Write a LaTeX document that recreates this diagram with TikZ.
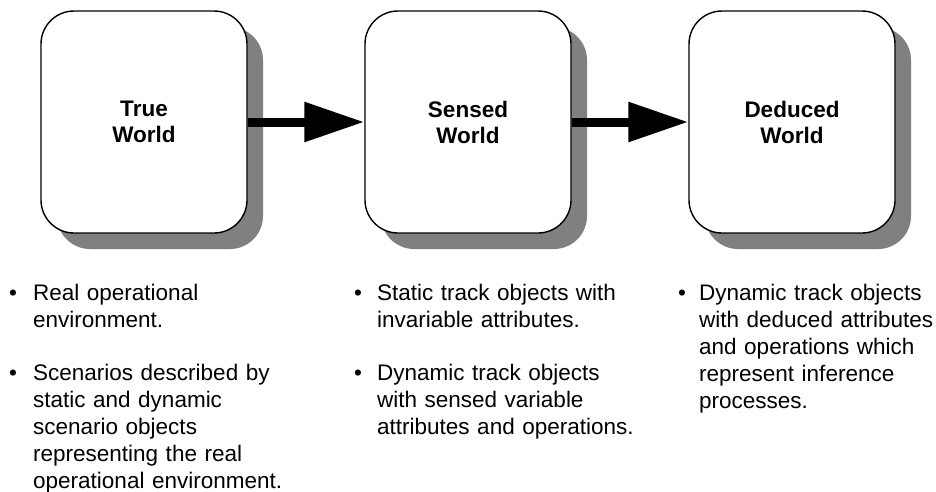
\documentclass[tikz,border=0pt]{standalone}
\usepackage{fontspec}
\setmainfont{Liberation Sans}
\usetikzlibrary{arrows.meta,shadows}
\definecolor{shadowgray}{HTML}{808080}
\hyphenpenalty=10000
\exhyphenpenalty=10000
\begin{document}
\begin{tikzpicture}[x=1pt,y=-1pt,
  worldbox/.style={draw=black, line width=1.4pt, fill=white, rounded corners=33pt,
    minimum width=206pt, minimum height=222pt, inner sep=0pt, align=center,
    font=\fontsize{22.5}{26}\selectfont\bfseries,
    drop shadow={shadow xshift=16pt, shadow yshift=-16pt, fill=shadowgray, opacity=1}},
  bigarrow/.style={line width=9pt, -{Triangle[length=60pt,width=38pt]}},
  itemtext/.style={anchor=base west, inner sep=0pt, text width=320pt, align=left,
    font=\fontsize{22.5}{27}\selectfont},
  bulletmark/.style={anchor=base, inner sep=0pt, font=\fontsize{22.5}{27}\selectfont}
]
\useasboundingbox (0,0) rectangle (936,491);
\begin{scope}
\clip (0,0) rectangle (936,491);
\node[worldbox] (tw) at (144,122) {True\\World};
\node[worldbox] (sw) at (468,122) {Sensed\\World};
\node[worldbox] (dw) at (792,122) {Deduced\\World};

\draw[bigarrow] (tw.east) -- (sw.west);
\draw[bigarrow] (sw.east) -- (dw.west);

% column 1
\node[bulletmark] (m1) at (13,300) {•};
\node[itemtext] (t1) at (33,300) {Real operational\\environment.};
\node[bulletmark] (m2) at (13,380) {•};
\node[itemtext] (t2) at (33,380) {Scenarios described by\\static and dynamic\\scenario objects\\representing the real\\operational environment.};

% column 2
\node[bulletmark] (m3) at (358,300) {•};
\node[itemtext] (t3) at (377,300) {Static track objects with\\invariable attributes.};
\node[bulletmark] (m4) at (358,380) {•};
\node[itemtext] (t4) at (377,380) {Dynamic track objects\\with sensed variable\\attributes and operations.};

% column 3
\node[bulletmark] (m5) at (682,300) {•};
\node[itemtext] (t5) at (699,300) {Dynamic track objects\\with deduced attributes\\and operations which\\represent inference\\processes.};
\end{scope}
\end{tikzpicture}
\end{document}
